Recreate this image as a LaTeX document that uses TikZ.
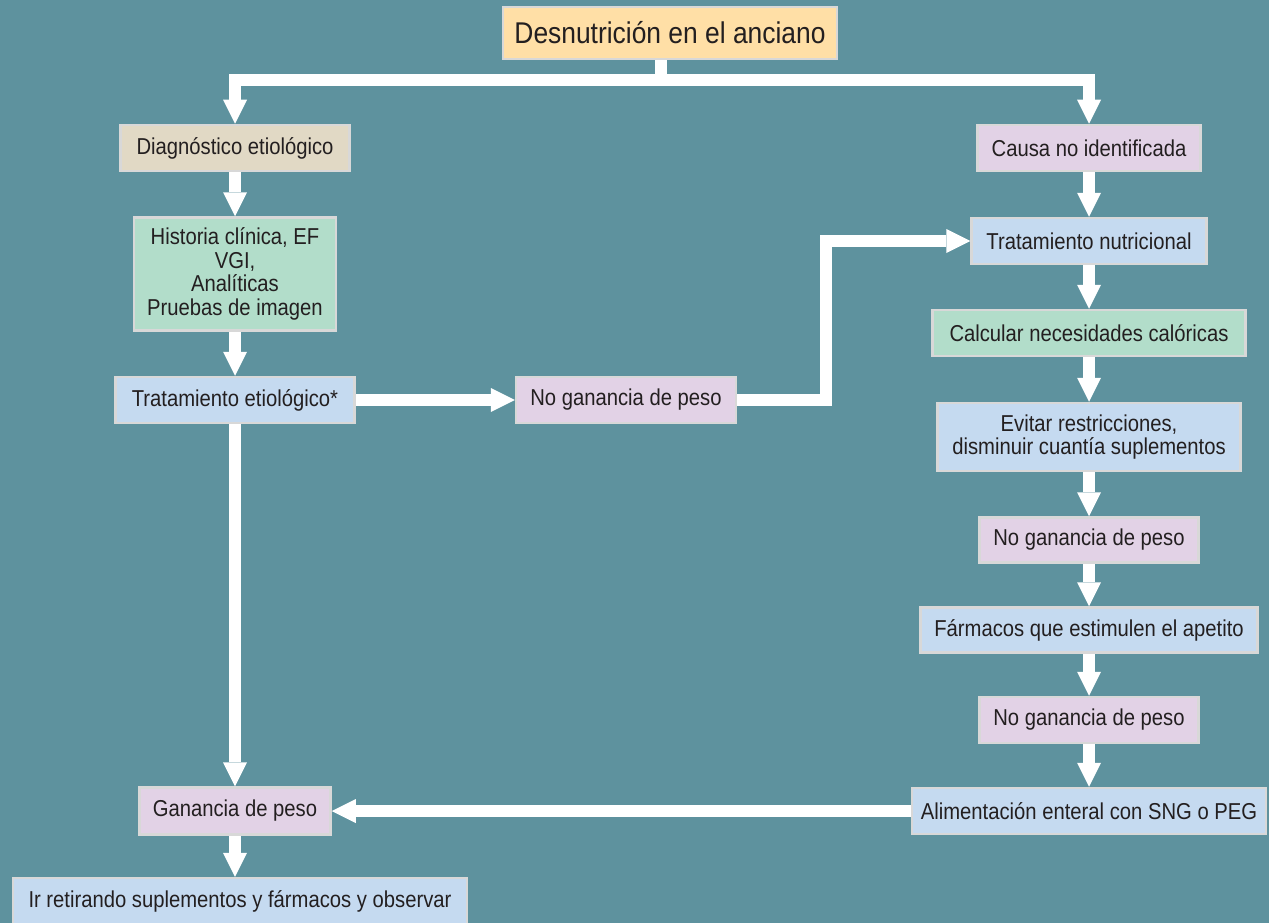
\documentclass[tikz,border=0pt]{standalone}
\usepackage{fontspec}
\setmainfont{Liberation Sans}[FakeStretch=0.88]
\usetikzlibrary{arrows.meta}

\definecolor{bgteal}{RGB}{94,146,158}
\definecolor{boxline}{RGB}{216,216,216}
\definecolor{ink}{RGB}{35,31,32}
\definecolor{peach}{RGB}{255,223,166}
\definecolor{beige}{RGB}{225,217,197}
\definecolor{mint}{RGB}{178,221,202}
\definecolor{paleblue}{RGB}{197,218,240}
\definecolor{lavender}{RGB}{226,210,230}

\begin{document}
\begin{tikzpicture}[x=1pt,y=-1pt,
    box/.style={draw=boxline, line width=2.5pt, text=ink, inner sep=0pt, align=center,
                font=\fontsize{23}{23.5}\selectfont},
    stem/.style={draw=white, line width=12pt},
    flow/.style={draw=white, line width=12pt, line join=miter,
                 -{Triangle[width=24pt,length=24pt,line width=0pt]}}]

% Background
\fill[bgteal] (0,0) rectangle (1269,923);
\useasboundingbox (0,0) rectangle (1269,923);

% Title
\node[box, fill=peach, minimum width=334pt, minimum height=52pt,
      font=\fontsize{30}{31}\selectfont] (title) at (670,33) {Desnutrición en el anciano};

% Left column
\node[box, fill=beige, minimum width=229pt, minimum height=46pt] (diag) at (235,148) {Diagnóstico etiológico};
\node[box, fill=mint, minimum width=202pt, minimum height=113pt] (hist) at (235,274)
    {Historia clínica, EF\\VGI,\\Analíticas\\Pruebas de imagen};
\node[box, fill=paleblue, minimum width=239pt, minimum height=46pt] (trat) at (235,400) {Tratamiento etiológico*};
\node[box, fill=lavender, minimum width=220pt, minimum height=46pt] (ng0) at (626,400) {No ganancia de peso};
\node[box, fill=lavender, minimum width=191pt, minimum height=47pt] (gan) at (235,811) {Ganancia de peso};
\node[box, fill=paleblue, minimum width=454pt, minimum height=46pt] (ir) at (240,901)
    {Ir retirando suplementos y fármacos y observar};

% Right column
\node[box, fill=lavender, minimum width=223pt, minimum height=46pt] (causa) at (1089,148) {Causa no identificada};
\node[box, fill=paleblue, minimum width=235pt, minimum height=46pt] (tnut) at (1089,241) {Tratamiento nutricional};
\node[box, fill=mint, minimum width=313pt, minimum height=46pt] (calc) at (1089,333) {Calcular necesidades calóricas};
\node[box, fill=paleblue, minimum width=303pt, minimum height=68pt] (evit) at (1089,437)
    {Evitar restricciones,\\disminuir cuantía suplementos};
\node[box, fill=lavender, minimum width=219pt, minimum height=45pt] (ng1) at (1089,540) {No ganancia de peso};
\node[box, fill=paleblue, minimum width=337pt, minimum height=45pt] (farm) at (1089,630) {Fármacos que estimulen el apetito};
\node[box, fill=lavender, minimum width=219pt, minimum height=46pt] (ng2) at (1089,720) {No ganancia de peso};
\node[box, fill=paleblue, minimum width=354pt, minimum height=46pt] (alim) at (1089,811) {Alimentación enteral con SNG o PEG};

% Split below the title
\coordinate (split) at (661,80);
\draw[stem] (title.south -| split) -- (split);
\draw[flow] (split) -| (diag);
\draw[flow] (split) -| (causa);

% Left chain
\foreach \a/\b in {diag/hist, hist/trat, trat/gan, trat/ng0}
    \draw[flow] (\a) -- (\b);
\draw[flow] (gan.south) -- (gan.south |- ir.north);

% Back to nutritional treatment
\coordinate (bend) at (826,400);
\draw[flow] (ng0) -- (bend) |- (tnut);

% Right chain
\foreach \a/\b in {causa/tnut, tnut/calc, calc/evit, evit/ng1, ng1/farm, farm/ng2, ng2/alim, alim/gan}
    \draw[flow] (\a) -- (\b);

\end{tikzpicture}
\end{document}
